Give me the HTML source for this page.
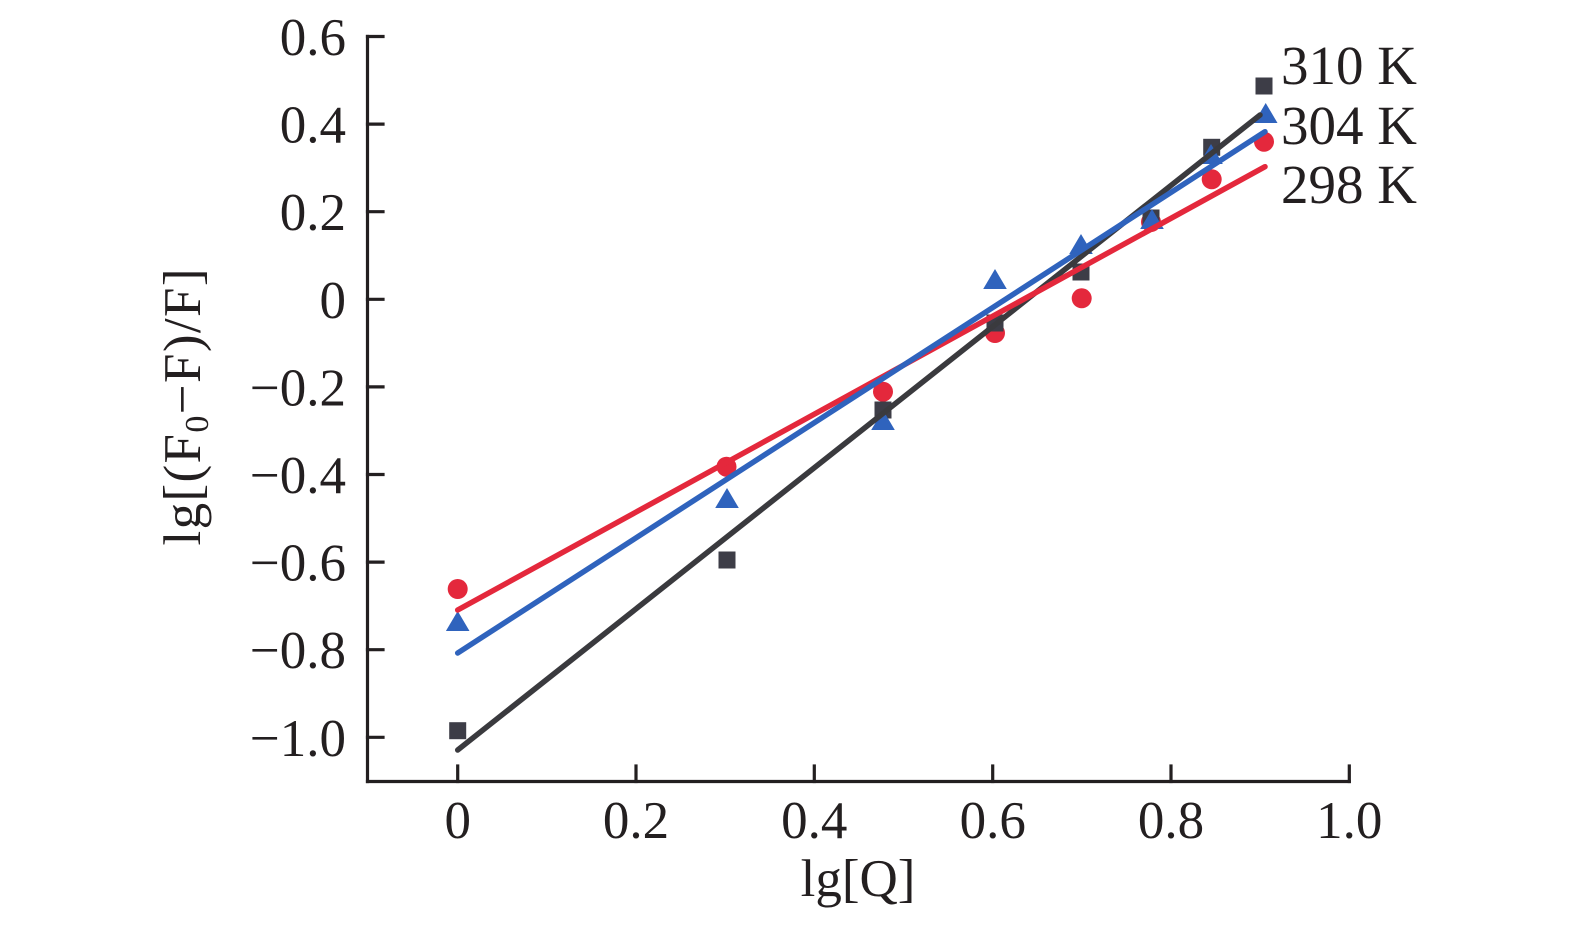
<!DOCTYPE html>
<html>
<head>
<meta charset="utf-8">
<style>
  html, body { margin: 0; padding: 0; background: #ffffff; }
  svg { display: block; }
  text { font-family: "Liberation Serif", "Times New Roman", serif; fill: #231f20; }
</style>
</head>
<body>
<svg width="1575" height="925" viewBox="0 0 1575 925" xmlns="http://www.w3.org/2000/svg">
  <rect x="0" y="0" width="1575" height="925" fill="#ffffff"/>

  <!-- Axes -->
  <g stroke="#231f20" stroke-width="3.2" fill="none" stroke-linecap="square">
    <line x1="367.5" y1="36.5" x2="367.5" y2="781.5"/>
    <line x1="367.5" y1="781.5" x2="1349.3" y2="781.5"/>
    <!-- y ticks -->
    <line x1="367.5" y1="36.5" x2="383" y2="36.5"/>
    <line x1="367.5" y1="124.1" x2="383" y2="124.1"/>
    <line x1="367.5" y1="211.7" x2="383" y2="211.7"/>
    <line x1="367.5" y1="299.3" x2="383" y2="299.3"/>
    <line x1="367.5" y1="386.9" x2="383" y2="386.9"/>
    <line x1="367.5" y1="474.5" x2="383" y2="474.5"/>
    <line x1="367.5" y1="562.1" x2="383" y2="562.1"/>
    <line x1="367.5" y1="649.7" x2="383" y2="649.7"/>
    <line x1="367.5" y1="737.3" x2="383" y2="737.3"/>
    <!-- x ticks -->
    <line x1="457.7" y1="781.5" x2="457.7" y2="766"/>
    <line x1="636" y1="781.5" x2="636" y2="766"/>
    <line x1="814.3" y1="781.5" x2="814.3" y2="766"/>
    <line x1="992.7" y1="781.5" x2="992.7" y2="766"/>
    <line x1="1171" y1="781.5" x2="1171" y2="766"/>
    <line x1="1349.3" y1="781.5" x2="1349.3" y2="766"/>
  </g>

  <!-- Y tick labels -->
  <g font-size="53" text-anchor="end">
    <text x="346" y="55">0.6</text>
    <text x="346" y="142.6">0.4</text>
    <text x="346" y="230.2">0.2</text>
    <text x="346" y="317.8">0</text>
    <text x="346" y="405.4">−0.2</text>
    <text x="346" y="493">−0.4</text>
    <text x="346" y="580.6">−0.6</text>
    <text x="346" y="668.2">−0.8</text>
    <text x="346" y="755.8">−1.0</text>
  </g>

  <!-- X tick labels -->
  <g font-size="53" text-anchor="middle">
    <text x="457.7" y="838">0</text>
    <text x="636" y="838">0.2</text>
    <text x="814.3" y="838">0.4</text>
    <text x="992.7" y="838">0.6</text>
    <text x="1171" y="838">0.8</text>
    <text x="1349.3" y="838">1.0</text>
  </g>

  <!-- Axis titles -->
  <text x="858" y="896" font-size="53" text-anchor="middle">lg[Q]</text>
  <text transform="translate(200,407) rotate(-90)" font-size="53" text-anchor="middle" textLength="277" lengthAdjust="spacing">lg[(F<tspan font-size="34" dy="8">0</tspan><tspan dy="-8">−F)/F]</tspan></text>

  <!-- Markers: circles (298 K) -->
  <g fill="#e4283c">
    <circle cx="457.7" cy="589" r="10"/>
    <circle cx="726.5" cy="466.7" r="10"/>
    <circle cx="883" cy="391.7" r="10"/>
    <circle cx="995" cy="333" r="10"/>
    <circle cx="1081.7" cy="298.3" r="10"/>
    <circle cx="1151" cy="222" r="10"/>
    <circle cx="1211.7" cy="179.3" r="10"/>
    <circle cx="1264" cy="141.7" r="10"/>
  </g>

  <!-- Markers: squares (310 K) -->
  <g fill="#3d3d47">
    <rect x="449.2" y="722.2" width="17" height="17"/>
    <rect x="718.5" y="551.5" width="17" height="17"/>
    <rect x="874.5" y="401.5" width="17" height="17"/>
    <rect x="986.5" y="314.5" width="17" height="17"/>
    <rect x="1072.5" y="263.5" width="17" height="17"/>
    <rect x="1142.5" y="209.5" width="17" height="17"/>
    <rect x="1203.2" y="138.8" width="17" height="17"/>
    <rect x="1255.5" y="77.5" width="17" height="17"/>
  </g>

  <!-- Markers: triangles (304 K) -->
  <g fill="#2f63bd">
    <polygon points="457.7,611 469.5,631 445.9,631"/>
    <polygon points="727,488 738.8,508 715.2,508"/>
    <polygon points="883,410 894.8,430 871.2,430"/>
    <polygon points="995,269 1006.8,289 983.2,289"/>
    <polygon points="1081,234 1092.8,254 1069.2,254"/>
    <polygon points="1152,209 1163.8,229 1140.2,229"/>
    <polygon points="1211,144 1222.8,164 1199.2,164"/>
    <polygon points="1265.7,103 1277.5,123 1253.9,123"/>
  </g>

  <!-- Fit lines -->
  <g stroke-width="5.5" stroke-linecap="round" fill="none">
    <line x1="457.7" y1="750" x2="1260" y2="115" stroke="#3a3a3e"/>
    <line x1="457.7" y1="610" x2="1265" y2="166.7" stroke="#e4283c"/>
    <line x1="457.7" y1="653" x2="1265" y2="131.7" stroke="#2f63bd"/>
  </g>

  <!-- Legend labels -->
  <g font-size="55">
    <text x="1281" y="84">310 K</text>
    <text x="1281" y="144">304 K</text>
    <text x="1281" y="203">298 K</text>
  </g>
</svg>
</body>
</html>
